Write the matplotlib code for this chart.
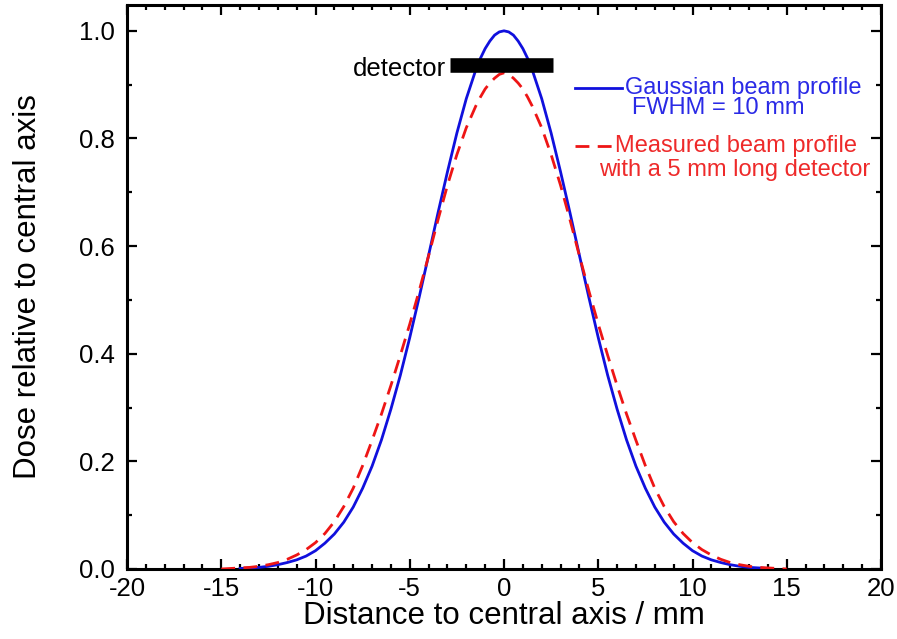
import numpy as np
import matplotlib
matplotlib.use('Agg')
import matplotlib.pyplot as plt
from matplotlib.ticker import MultipleLocator, FormatStrFormatter

plt.rcParams['font.family'] = ['Liberation Sans', 'DejaVu Sans']
plt.rcParams['axes.unicode_minus'] = False

# half profiles (x >= 0), mirrored below
x_gauss_half = [0, 0.25, 0.5, 0.75, 1.0, 1.25, 1.5, 2.0, 2.5, 3.0, 3.5, 4.0, 4.5,
                5.0, 5.5, 6.0, 6.5, 7.0, 7.5, 8.0, 8.5, 9.0, 9.5, 10.0, 10.5,
                11.0, 11.5, 12.0, 12.5, 13.0, 13.5, 14.0]
dose_gauss_half = [1.000, 0.998, 0.992, 0.981, 0.967, 0.949, 0.927, 0.874, 0.810,
                   0.738, 0.662, 0.583, 0.505, 0.430, 0.360, 0.297, 0.240, 0.191,
                   0.150, 0.115, 0.087, 0.065, 0.048, 0.034, 0.024, 0.017, 0.012,
                   0.008, 0.005, 0.003, 0.002, 0.001]

x_meas_half = [0, 0.25, 0.5, 0.75, 1.0, 1.25, 1.5, 2.0, 2.5, 3.0, 3.5, 4.0, 4.5,
               5.0, 5.5, 6.0, 6.5, 7.0, 7.5, 8.0, 8.5, 9.0, 9.5, 10.0, 10.5,
               11.0, 11.5, 12.0, 12.5, 13.0, 13.5, 14.0, 14.5, 15.0]
dose_meas_half = [0.922, 0.919, 0.912, 0.903, 0.892, 0.877, 0.860, 0.820, 0.770,
                  0.713, 0.649, 0.582, 0.517, 0.455, 0.397, 0.341, 0.288, 0.239,
                  0.192, 0.150, 0.116, 0.088, 0.066, 0.049, 0.036, 0.026, 0.018,
                  0.012, 0.008, 0.005, 0.003, 0.002, 0.001, 0.000]

detector_x = [-2.85, 2.6]
detector_y = 0.936


def mirror(xh, yh):
    xh = np.asarray(xh)
    yh = np.asarray(yh)
    return np.concatenate([-xh[:0:-1], xh]), np.concatenate([yh[:0:-1], yh])


x_gauss, dose_gauss = mirror(x_gauss_half, dose_gauss_half)
x_meas, dose_meas = mirror(x_meas_half, dose_meas_half)

blue = '#1010dd'
red = '#ee1515'

fig = plt.figure(figsize=(8.97, 6.39), dpi=100)
ax = fig.add_axes([127 / 897, 70 / 639, 754 / 897, 564 / 639])

ax.plot(x_gauss, dose_gauss, color=blue, lw=2.0, zorder=3)
ax.plot(x_meas, dose_meas, color=red, lw=2.0, dashes=(5, 3), zorder=4)

# detector bar
ax.plot(detector_x, [detector_y, detector_y], color='black', lw=10.5,
        solid_capstyle='butt', zorder=5)
ax.text(-3.1, detector_y - 0.006, 'detector', ha='right', va='center', fontsize=18.5)

# hand-made legend
ax.plot([0.594, 0.6565], [0.853, 0.853], color=blue, lw=2.0, transform=ax.transAxes)
ax.text(0.6605, 0.853, 'Gaussian beam profile', color='#2a2ae6', fontsize=17,
        ha='left', va='center', transform=ax.transAxes)
ax.text(0.670, 0.817, 'FWHM = 10 mm', color='#2a2ae6', fontsize=17,
        ha='left', va='center', transform=ax.transAxes)
ax.plot([0.594, 0.646], [0.750, 0.750], color=red, lw=2.0, dashes=(5, 3),
        transform=ax.transAxes)
ax.text(0.808, 0.750, 'Measured beam profile', color='#ee2a2a', fontsize=17,
        ha='center', va='center', transform=ax.transAxes)
ax.text(0.806, 0.707, 'with a 5 mm long detector', color='#ee2a2a', fontsize=17,
        ha='center', va='center', transform=ax.transAxes)

ax.set_xlim(-20, 20)
ax.set_ylim(0, 1.048)
ax.xaxis.set_major_locator(MultipleLocator(5))
ax.xaxis.set_minor_locator(MultipleLocator(1))
ax.yaxis.set_major_locator(MultipleLocator(0.2))
ax.yaxis.set_minor_locator(MultipleLocator(0.1))
ax.yaxis.set_major_formatter(FormatStrFormatter('%.1f'))

ax.tick_params(which='both', direction='in', top=True, right=True, width=1.6,
               labelsize=18.5)
ax.tick_params(axis='y', pad=9)
ax.tick_params(axis='x', pad=6)
ax.tick_params(which='major', length=7)
ax.tick_params(which='minor', length=3.5)
for s in ax.spines.values():
    s.set_linewidth(2.2)

ax.set_xlabel('Distance to central axis / mm', fontsize=22.5, labelpad=0)
ax.set_ylabel('Dose relative to central axis', fontsize=22.5, labelpad=26)

fig.savefig('out.png', dpi=100)
